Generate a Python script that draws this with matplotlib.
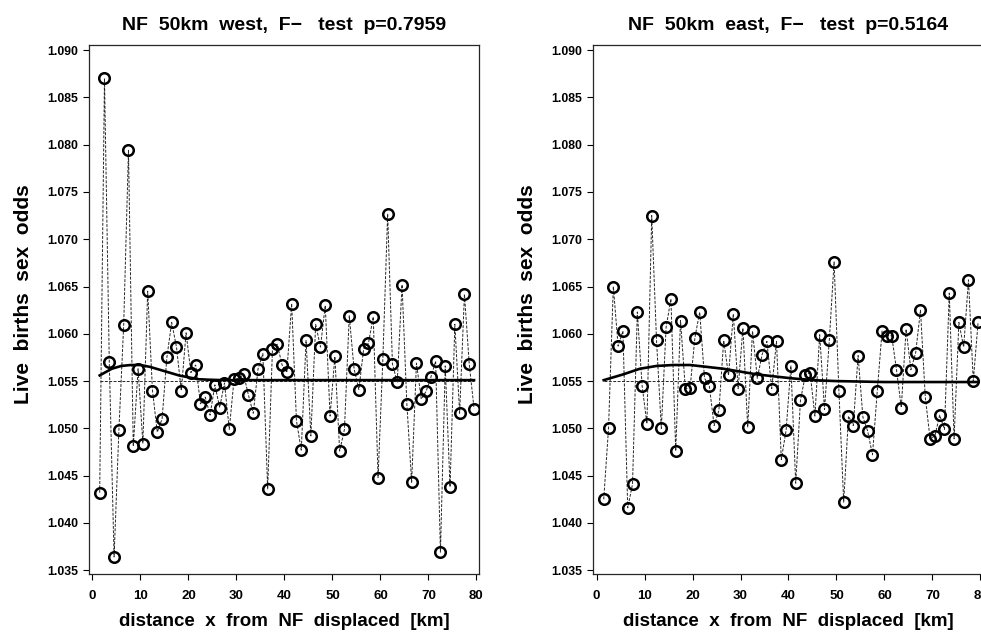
#!/bin/python3
# -*- coding: utf-8 -*-

#################################################
#     Libraries
#################################################
import numpy as np
import matplotlib
matplotlib.use( "Agg" )
import matplotlib.pyplot as plt

#################################################
#     Data
#################################################
distance = np.arange( 1.5, 80.0, 1.0 )

odds_west = [
    1.0432, 1.0870, 1.0570, 1.0364, 1.0498, 1.0609, 1.0794, 1.0481, 1.0563, 1.0484,
    1.0645, 1.0540, 1.0496, 1.0510, 1.0575, 1.0612, 1.0586, 1.0540, 1.0601, 1.0559,
    1.0567, 1.0526, 1.0533, 1.0514, 1.0546, 1.0522, 1.0548, 1.0499, 1.0552, 1.0553,
    1.0557, 1.0535, 1.0516, 1.0563, 1.0579, 1.0436, 1.0584, 1.0589, 1.0567, 1.0560,
    1.0632, 1.0508, 1.0477, 1.0593, 1.0492, 1.0610, 1.0586, 1.0630, 1.0513, 1.0576,
    1.0476, 1.0499, 1.0619, 1.0563, 1.0541, 1.0584, 1.0590, 1.0618, 1.0448, 1.0573,
    1.0727, 1.0568, 1.0549, 1.0652, 1.0526, 1.0443, 1.0569, 1.0531, 1.0539, 1.0554,
    1.0571, 1.0369, 1.0566, 1.0438, 1.0610, 1.0516, 1.0642, 1.0568, 1.0521 ]

odds_east = [
    1.0425, 1.0500, 1.0650, 1.0587, 1.0603, 1.0416, 1.0441, 1.0623, 1.0545, 1.0505,
    1.0725, 1.0593, 1.0500, 1.0607, 1.0637, 1.0476, 1.0614, 1.0542, 1.0543, 1.0596,
    1.0623, 1.0553, 1.0545, 1.0503, 1.0519, 1.0593, 1.0556, 1.0621, 1.0542, 1.0606,
    1.0501, 1.0603, 1.0553, 1.0578, 1.0592, 1.0542, 1.0592, 1.0467, 1.0498, 1.0566,
    1.0442, 1.0530, 1.0556, 1.0559, 1.0513, 1.0599, 1.0520, 1.0593, 1.0676, 1.0540,
    1.0422, 1.0513, 1.0503, 1.0577, 1.0512, 1.0497, 1.0472, 1.0540, 1.0603, 1.0598,
    1.0598, 1.0562, 1.0522, 1.0605, 1.0562, 1.0580, 1.0625, 1.0533, 1.0489, 1.0492,
    1.0514, 1.0499, 1.0643, 1.0489, 1.0612, 1.0586, 1.0657, 1.0550, 1.0612 ]

# fitted curves
fit_west_x = [ 1.5, 4, 6, 8, 10, 12, 14, 16, 18, 20, 22, 24, 27, 30, 40, 60, 79.5 ]
fit_west_y = [ 1.0556, 1.0563, 1.0566, 1.0567, 1.0567, 1.0565, 1.0562, 1.0559, 1.0556,
               1.0554, 1.0552, 1.05515, 1.0551, 1.0551, 1.0551, 1.0551, 1.0551 ]

fit_east_x = [ 1.5, 5.5, 9, 12.5, 16, 19.5, 23, 26.5, 30, 33.5, 37, 40.5, 45, 50, 60, 79.5 ]
fit_east_y = [ 1.0551, 1.0557, 1.0563, 1.0566, 1.0567, 1.0567, 1.0565, 1.0563, 1.0560,
               1.0557, 1.0555, 1.0553, 1.0551, 1.0550, 1.0549, 1.0549 ]

baseline = 1.055

titles = [ "NF  50km  west,  F\u2212   test  p=0.7959",
           "NF  50km  east,  F\u2212   test  p=0.5164" ]

y_ticks = [ 1.035, 1.040, 1.045, 1.050, 1.055, 1.060, 1.065, 1.070, 1.075, 1.080, 1.085, 1.090 ]
x_ticks = [ 0, 10, 20, 30, 40, 50, 60, 70, 80 ]

#################################################
#     draw_panel
#################################################
def draw_panel( ax, y, fit_x, fit_y, title ):
    ax.plot( distance, y, color = "0.15", lw = 0.7, ls = ( 0, ( 3, 1.5 ) ), zorder = 2 )
    ax.plot( distance, y, "o", ms = 7.6, mfc = "none", mec = "black", mew = 1.8, zorder = 3 )
    ax.plot( [ distance[ 0 ], distance[ -1 ] ], [ baseline, baseline ], color = "0.15", lw = 0.7,
             ls = ( 0, ( 3, 1.5 ) ), zorder = 2 )
    ax.plot( fit_x, fit_y, color = "black", lw = 1.9, zorder = 4 )

    ax.set_xlim( -0.67, 80.6 )
    ax.set_ylim( 1.0346, 1.0905 )
    ax.set_xticks( x_ticks )
    ax.set_yticks( y_ticks )
    ax.set_yticklabels( [ "{:.3f}".format( v ) for v in y_ticks ] )
    ax.tick_params( axis = "x", direction = "out", length = 4.5, width = 0.8, pad = 7, labelsize = 9.5 )
    ax.tick_params( axis = "y", direction = "out", length = 4, width = 0.8, pad = 4, labelsize = 8.8 )
    for lab in ax.get_xticklabels() + ax.get_yticklabels():
        lab.set_fontweight( "bold" )
    for sp in ax.spines.values():
        sp.set_linewidth( 0.9 )
        sp.set_color( "0.15" )

    ax.set_title( title, fontsize = 14, fontweight = "bold", pad = 11 )
    ax.set_xlabel( "distance  x  from  NF  displaced  [km]", fontsize = 13.5, fontweight = "bold", labelpad = 8 )
    ax.set_ylabel( "Live  births  sex  odds", fontsize = 15, fontweight = "bold" )
    ax.yaxis.set_label_coords( -0.144, 0.53 )

#################################################
#     Main
#################################################
plt.rcParams[ "font.family" ] = [ "Liberation Sans", "DejaVu Sans" ]

fig = plt.figure( figsize = ( 9.81, 6.34 ), dpi = 100 )
ax_west = fig.add_axes( [ 0.0910, 0.0946, 0.3976, 0.8339 ] )
ax_east = fig.add_axes( [ 0.6048, 0.0946, 0.3976, 0.8339 ] )

draw_panel( ax_west, odds_west, fit_west_x, fit_west_y, titles[ 0 ] )
draw_panel( ax_east, odds_east, fit_east_x, fit_east_y, titles[ 1 ] )

fig.savefig( "out.png", dpi = 100 )
